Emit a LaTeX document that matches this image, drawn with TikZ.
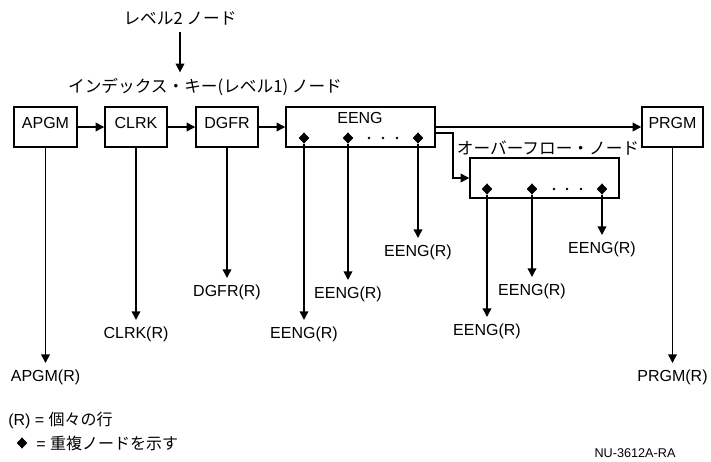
\documentclass[tikz,border=0pt]{standalone}
\usepackage{fontspec}
\setmainfont{Liberation Sans}
\newfontfamily\jp{Noto Sans CJK JP}
\usetikzlibrary{arrows.meta,shapes.geometric}
\begin{document}
\begin{tikzpicture}[x=0.75pt,y=-0.75pt,
  every node/.style={font=\fontsize{12}{14}\selectfont},
  box/.style={draw, line width=1.1pt, inner sep=0pt, minimum height=30pt, text height=8.6pt, text depth=6pt},
  arr/.style={line width=1.1pt, -{Triangle[length=6.5pt,width=6.5pt]}},
  dia/.style={diamond, fill=black, inner sep=0pt, minimum width=8pt, minimum height=8.5pt},
  dotn/.style={circle, fill=black, inner sep=0pt, minimum size=2.2pt},
  lab/.style={anchor=north, inner sep=5pt},
  jpt/.style={font=\jp\fontsize{12.5}{15}\selectfont}
]
\useasboundingbox (0,0) rectangle (711,461);

% top labels
\node[jpt, inner xsep=0pt, inner ysep=5pt] (lvl2) at (180,18) {レベル2 ノード};
\node[jpt, inner xsep=0pt, inner ysep=4.25pt] (idx) at (205,87) {インデックス・キー(レベル1) ノード};
\draw[arr] (lvl2.south) -- (lvl2.south |- idx.north);

% boxes
\node[box, minimum width=47.25pt] (apgm) at (45.5,127) {APGM};
\node[box, minimum width=46.5pt] (clrk) at (136,127) {CLRK};
\node[box, minimum width=46.5pt] (dgfr) at (227,127) {DGFR};
\node[box, minimum width=111.75pt] (eeng) at (360.5,127) {};
\node[inner sep=0pt] (eengt) at (360,118) {EENG};
\node[box, minimum width=45.75pt] (prgm) at (672.5,127) {PRGM};
\node[box, minimum width=111.75pt] (ovf) at (544.5,178) {};
\node[jpt, inner sep=0pt] (ovft) at (548,148) {オーバーフロー・ノード};

% horizontal connectors
\draw[arr] (apgm) -- (clrk);
\draw[arr] (clrk) -- (dgfr);
\draw[arr] (dgfr) -- (eeng);
\draw[arr] (eeng) -- (prgm);
\coordinate (bend) at (453,133);
\draw[arr] ([yshift=-4.5pt]eeng.east) -- (bend) |- (ovf.west);

% diamonds and dots in EENG
\node[dia] (e1) at (304,138) {};
\node[dia] (e2) at (348,138) {};
\node[dia] (e3) at (418,138) {};
\node[dotn] (ed1) at (369,138) {};
\node[dotn] (ed2) at (383,138) {};
\node[dotn] (ed3) at (397,138) {};

% diamonds and dots in overflow
\node[dia] (o1) at (487,189) {};
\node[dia] (o2) at (532,189) {};
\node[dia] (o3) at (602,189) {};
\node[dotn] (od1) at (554,189) {};
\node[dotn] (od2) at (567,189) {};
\node[dotn] (od3) at (581,189) {};

% row labels
\node[lab] (apgmR) at (45.5,363) {APGM(R)};
\node[lab] (clrkR) at (136,320) {CLRK(R)};
\node[lab] (dgfrR) at (227,278) {DGFR(R)};
\node[lab] (e1R) at (304,320) {EENG(R)};
\node[lab] (e2R) at (348,280) {EENG(R)};
\node[lab] (e3R) at (418,238) {EENG(R)};
\node[lab] (o1R) at (487,317) {EENG(R)};
\node[lab] (o2R) at (532,277) {EENG(R)};
\node[lab] (o3R) at (602,235) {EENG(R)};
\node[lab] (prgmR) at (672.5,363) {PRGM(R)};

\draw[arr] (apgm) -- (apgmR);
\draw[arr] (clrk) -- (clrkR);
\draw[arr] (dgfr) -- (dgfrR);
\draw[arr] (e1) -- (e1R);
\draw[arr] (e2) -- (e2R);
\draw[arr] (e3) -- (e3R);
\draw[arr] (o1) -- (o1R);
\draw[arr] (o2) -- (o2R);
\draw[arr] (o3) -- (o3R);
\draw[arr] (prgm) -- (prgmR);

% legend
\node[anchor=west, inner sep=0pt] (leg1) at (8,420) {(R) = {\jp 個々の行}};
\node[dia] (legd) at (22,443) {};
\node[anchor=west, inner sep=0pt] (leg2) at (36,443) {= {\jp 重複ノードを示す}};

\node[font=\fontsize{9.5}{11}\selectfont, inner sep=0pt] (nu) at (635,453) {NU-3612A-RA};
\end{tikzpicture}
\end{document}
